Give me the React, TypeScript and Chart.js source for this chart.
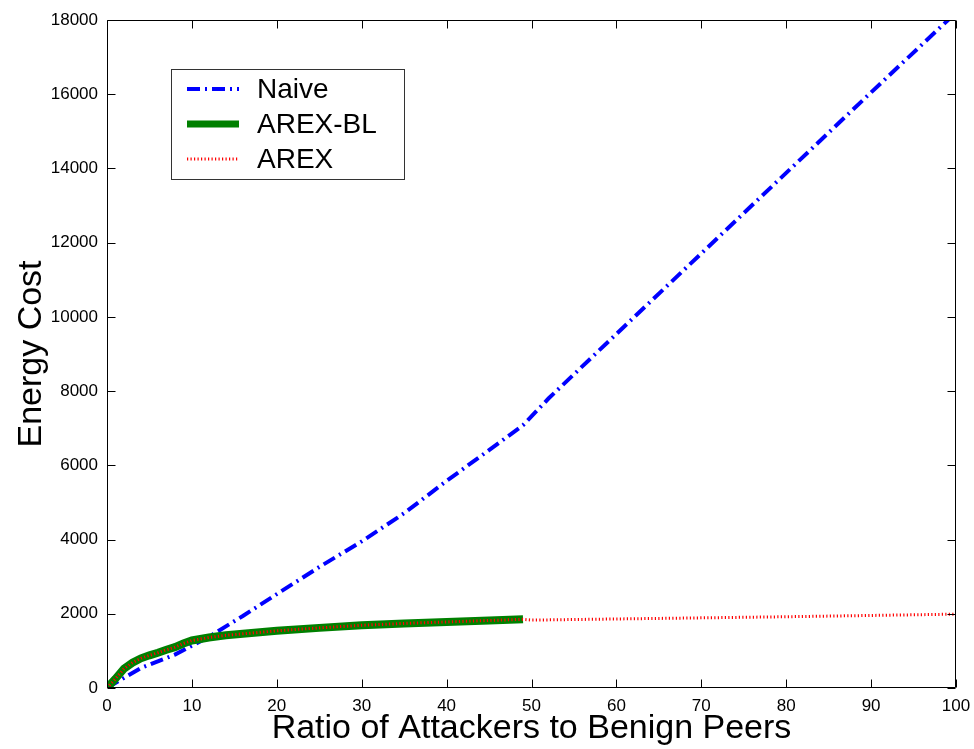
import React, { useEffect, useRef } from 'react';
import { Chart, registerables } from 'chart.js';
Chart.register(...registerables);

const naiveX = [0, 4, 8, 12, 16, 20, 25, 30, 35, 40, 45, 49, 52, 60, 70, 80, 90, 100];
const naiveY = [0, 540, 900, 1380, 1940, 2530, 3260, 3950, 4710, 5580, 6410, 7080, 7800, 9540, 11710, 13880, 16050, 18200];
const arexBlX = [0, 1, 2, 3, 4, 5, 6, 7, 8, 9, 10, 12, 14, 17, 20, 25, 30, 35, 40, 45, 49];
const arexBlY = [0, 250, 520, 680, 800, 880, 950, 1030, 1100, 1200, 1280, 1360, 1420, 1480, 1540, 1620, 1690, 1740, 1780, 1820, 1850];
const arexX = [0, 1, 2, 3, 4, 5, 6, 7, 8, 9, 10, 12, 14, 17, 20, 25, 30, 35, 40, 45, 49, 50, 60, 70, 80, 90, 100];
const arexY = [0, 250, 520, 680, 800, 880, 950, 1030, 1100, 1200, 1280, 1360, 1420, 1480, 1540, 1620, 1690, 1740, 1780, 1820, 1850, 1830, 1860, 1890, 1920, 1955, 1990];
const xTicks = [0, 10, 20, 30, 40, 50, 60, 70, 80, 90, 100];
const yTicks = [0, 2000, 4000, 6000, 8000, 10000, 12000, 14000, 16000, 18000];
const seriesNames = ['Naive', 'AREX-BL', 'AREX'];
const xTitle = 'Ratio of Attackers to Benign Peers';
const yTitle = 'Energy Cost';

const FONT = '"Liberation Sans", Arial, Helvetica, sans-serif';

const toPts = (xs: number[], ys: number[]) => xs.map((x, i) => ({ x, y: ys[i] }));

const framePlugin = {
  id: 'frame',
  afterDatasetsDraw(chart: any) {
    const { ctx, chartArea: a, scales } = chart;
    const L = Math.round(a.left) + 0.5, R = Math.round(a.right) - 0.5;
    const T = Math.round(a.top) + 0.5, B = Math.round(a.bottom) - 0.5;
    const tl = 8;
    ctx.save();
    ctx.strokeStyle = '#000';
    ctx.lineWidth = 1;
    ctx.beginPath();
    ctx.rect(L, T, R - L, B - T);
    xTicks.forEach((v) => {
      const px = Math.round(scales.x.getPixelForValue(v)) + 0.5;
      ctx.moveTo(px, B); ctx.lineTo(px, B - tl);
      ctx.moveTo(px, T); ctx.lineTo(px, T + tl);
    });
    yTicks.forEach((v) => {
      const py = Math.round(scales.y.getPixelForValue(v)) + 0.5;
      ctx.moveTo(L, py); ctx.lineTo(L + tl, py);
      ctx.moveTo(R, py); ctx.lineTo(R - tl, py);
    });
    ctx.stroke();
    ctx.restore();
  },
  afterDraw(chart: any) {
    const ctx = chart.ctx;
    ctx.save();
    const bx = 171.5, by = 69.5, bw = 233, bh = 110;
    ctx.fillStyle = '#fff';
    ctx.fillRect(bx, by, bw, bh);
    ctx.strokeStyle = '#333';
    ctx.lineWidth = 1;
    ctx.strokeRect(bx, by, bw, bh);
    const rows = [89, 124, 159];
    const styles = [
      { color: '#0000ff', width: 4, dash: [13, 5, 2, 5] },
      { color: '#008000', width: 7, dash: [] as number[] },
      { color: '#ff0000', width: 3, dash: [1.2, 2.3] },
    ];
    rows.forEach((y, i) => {
      const s = styles[i];
      ctx.beginPath();
      ctx.strokeStyle = s.color;
      ctx.lineWidth = s.width;
      ctx.setLineDash(s.dash);
      ctx.moveTo(187, y);
      ctx.lineTo(239, y);
      ctx.stroke();
      ctx.setLineDash([]);
      ctx.fillStyle = '#000';
      ctx.font = `28px ${FONT}`;
      ctx.textBaseline = 'middle';
      ctx.textAlign = 'left';
      ctx.fillText(seriesNames[i], 257, y + 1);
    });
    ctx.restore();
  },
};

export default function App() {
  const ref = useRef<HTMLCanvasElement | null>(null);
  useEffect(() => {
    if (!ref.current) return;
    const chart = new Chart(ref.current, {
      type: 'line',
      data: {
        datasets: [
          {
            label: seriesNames[2],
            data: toPts(arexX, arexY),
            borderColor: '#ff0000',
            borderWidth: 3,
            borderDash: [1.2, 2.3],
            pointRadius: 0,
            tension: 0,
            fill: false,
            order: 0,
          },
          {
            label: seriesNames[1],
            data: toPts(arexBlX, arexBlY),
            borderColor: '#008000',
            borderWidth: 8,
            pointRadius: 0,
            tension: 0,
            fill: false,
            order: 1,
          },
          {
            label: seriesNames[0],
            data: toPts(naiveX, naiveY),
            borderColor: '#0000ff',
            borderWidth: 4,
            borderDash: [13, 5, 2, 5],
            pointRadius: 0,
            tension: 0,
            fill: false,
            order: 2,
          },
        ],
      },
      options: {
        animation: false,
        responsive: true,
        maintainAspectRatio: false,
        layout: { padding: { left: 0, right: 18, top: 20, bottom: 0 } },
        plugins: { legend: { display: false }, tooltip: { enabled: false } },
        scales: {
          x: {
            type: 'linear',
            min: 0,
            max: 100,
            afterBuildTicks: (s: any) => { s.ticks = xTicks.map((v) => ({ value: v })); },
            afterFit: (s: any) => { s.height = 61; s.paddingLeft = 0; s.paddingRight = 0; },
            grid: { display: false },
            border: { display: false },
            ticks: { color: '#000', font: { family: FONT, size: 17 }, padding: 0, maxRotation: 0, callback: (v: any) => String(v) },
            title: { display: true, text: xTitle, color: '#000', font: { family: FONT, size: 34 }, padding: { top: 0, bottom: 0 } },
          },
          y: {
            type: 'linear',
            min: 0,
            max: 18000,
            afterBuildTicks: (s: any) => { s.ticks = yTicks.map((v) => ({ value: v })); },
            afterFit: (s: any) => { s.width = 107; s.paddingTop = 0; s.paddingBottom = 0; },
            grid: { display: false },
            border: { display: false },
            ticks: { color: '#000', font: { family: FONT, size: 17 }, padding: 1, callback: (v: any) => String(v) },
            title: { display: true, text: yTitle, color: '#000', font: { family: FONT, size: 34 }, padding: { top: 11, bottom: 0 } },
          },
        },
      },
      plugins: [framePlugin],
    } as any);
    return () => chart.destroy();
  }, []);
  return (
    <div style={{ position: 'fixed', left: 0, top: 0, width: 974, height: 749, background: '#fff' }}>
      <canvas ref={ref} />
    </div>
  );
}
